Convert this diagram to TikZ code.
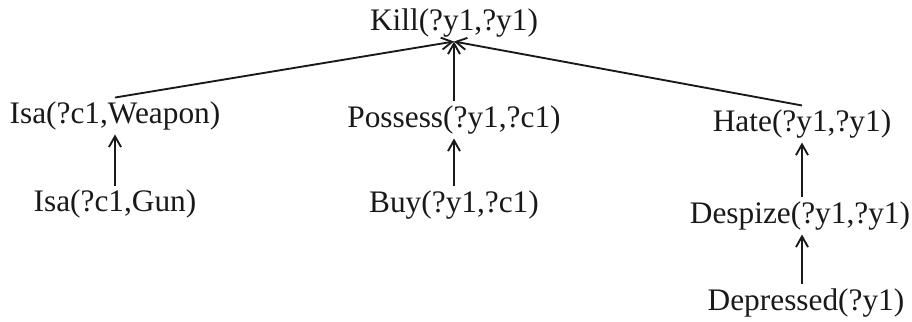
\documentclass[tikz,border=0pt]{standalone}
\usepackage{fontspec}
\setmainfont{Liberation Serif}
\usetikzlibrary{arrows.meta}
\def\normaledge{1.4}
\definecolor{edgeblack}{rgb}{0.1,0.1,0.1}

\begin{document}
\begin{tikzpicture}[x=0.75pt, y=-0.75pt,
    fact/.style={inner sep=3pt, font=\fontsize{23.5}{28}\selectfont, text=edgeblack},
    infer/.style={line width=\normaledge, color=edgeblack, -{Straight Barb[length=8pt,width=9pt]}}]

    \useasboundingbox (0,0) rectangle (912,321);

    % goal
    \node[fact] (kill) at (454,23) {Kill(?y1,?y1)};

    % first level
    \node[fact] (weapon) at (115,116) {Isa(?c1,Weapon)};
    \node[fact] (possess) at (454,120) {Possess(?y1,?c1)};
    \node[fact] (hate) at (802,124) {Hate(?y1,?y1)};

    % second level
    \node[fact] (gun) at (115,204) {Isa(?c1,Gun)};
    \node[fact] (buy) at (454,205) {Buy(?y1,?c1)};
    \node[fact] (despize) at (800,216) {Despize(?y1,?y1)};
    \node[fact] (depressed) at (806,303) {Depressed(?y1)};

    \draw[infer] (weapon.north) -- (kill.south);
    \draw[infer] (possess.north) -- (kill.south);
    \draw[infer] (hate.north) -- (kill.south);

    \draw[infer] (despize.north -| hate) -- (hate.south);
    \draw[infer] (gun.north) -- (weapon.south);
    \draw[infer] (buy.north) -- (possess.south);
    \draw[infer] (depressed.north -| hate) -- (despize.south -| hate);

\end{tikzpicture}
\end{document}
